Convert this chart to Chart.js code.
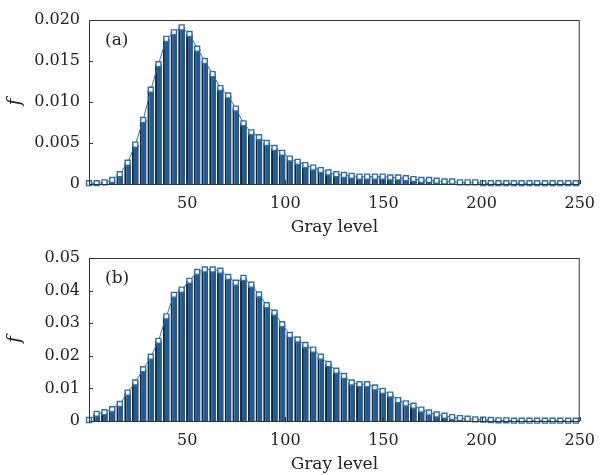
<!DOCTYPE html>
<html>
<head>
<meta charset="utf-8">
<script src="https://cdn.jsdelivr.net/npm/chart.js@4"></script>
<style>
  body { margin: 0; background: #fff; }
  canvas { display: block; }
</style>
</head>
<body>
<canvas id="histA" width="605" height="238"></canvas>
<canvas id="histB" width="605" height="237"></canvas>
<script>
var grayLevels = [0, 3.9, 7.9, 11.8, 15.7, 19.7, 23.6, 27.6, 31.5, 35.4, 39.4, 43.3, 47.2, 51.2, 55.1, 59.0,
  63.0, 66.9, 70.9, 74.8, 78.7, 82.7, 86.6, 90.5, 94.5, 98.4, 102.3, 106.3, 110.2, 114.2, 118.1, 122.0,
  126.0, 129.9, 133.8, 137.8, 141.7, 145.7, 149.6, 153.5, 157.5, 161.4, 165.3, 169.3, 173.2, 177.1, 181.1, 185.0,
  189.0, 192.9, 196.8, 200.8, 204.7, 208.6, 212.6, 216.5, 220.4, 224.4, 228.3, 232.3, 236.2, 240.1, 244.1, 248.0];

var freqA = [0.0001, 0.0001, 0.0002, 0.0005, 0.0012, 0.0026, 0.0048, 0.0078,
  0.0115, 0.0146, 0.0177, 0.0185, 0.0191, 0.0183, 0.0165, 0.0150,
  0.0134, 0.0117, 0.0108, 0.0092, 0.0074, 0.0063, 0.0057, 0.0050,
  0.0044, 0.0038, 0.0031, 0.0027, 0.0023, 0.0020, 0.0017, 0.0014,
  0.0012, 0.0011, 0.0010, 0.0009, 0.0009, 0.0009, 0.0009, 0.0008,
  0.0008, 0.0007, 0.0006, 0.0005, 0.0005, 0.0004, 0.0003, 0.0003,
  0.0002, 0.0002, 0.0002, 0.0001, 0.0001, 0.0001, 0.0001, 0.0001,
  0.0001, 0.0001, 0.0001, 0.0001, 0.0001, 0.0001, 0.0001, 0.0001];

var freqB = [0.0003, 0.0022, 0.0027, 0.0036, 0.0052, 0.0087, 0.0118, 0.0159,
  0.0197, 0.0246, 0.0321, 0.0387, 0.0403, 0.0430, 0.0457, 0.0465,
  0.0465, 0.0461, 0.0442, 0.0424, 0.0439, 0.0418, 0.0388, 0.0355,
  0.0332, 0.0297, 0.0264, 0.0250, 0.0233, 0.0219, 0.0197, 0.0175,
  0.0154, 0.0138, 0.0118, 0.0113, 0.0113, 0.0103, 0.0092, 0.0081,
  0.0064, 0.0054, 0.0047, 0.0035, 0.0026, 0.0020, 0.0016, 0.0012,
  0.0009, 0.0007, 0.0005, 0.0004, 0.0003, 0.0002, 0.0002, 0.0001,
  0.0001, 0.0001, 0.0001, 0.0001, 0.0001, 0.0001, 0.0001, 0.0001];

var xTicks = [50, 100, 150, 200, 250];
var yTicksA = [0, 0.005, 0.010, 0.015, 0.020];
var yLabelsA = ["0", "0.005", "0.010", "0.015", "0.020"];
var yTicksB = [0, 0.01, 0.02, 0.03, 0.04, 0.05];
var yLabelsB = ["0", "0.01", "0.02", "0.03", "0.04", "0.05"];

var barBlue = "#1e5c98";
var lineBlue = "#2f6ea8";
var frameColor = "#333333";
var serif = "'DejaVu Serif', serif";

// frame around the plot, inward ticks and the (a)/(b) tag
var framePlugin = {
  id: "frame",
  afterDraw: function(chart, args, opts) {
    var ctx = chart.ctx;
    var a = chart.chartArea;
    var xs = chart.scales.x, ys = chart.scales.y;
    ctx.save();
    ctx.strokeStyle = frameColor;
    ctx.lineWidth = 1;
    ctx.strokeRect(a.left + 0.5, a.top + 0.5, a.right - a.left - 1, a.bottom - a.top);
    ctx.beginPath();
    xTicks.forEach(function(v) {
      var px = Math.round(xs.getPixelForValue(v)) + 0.5;
      ctx.moveTo(px, a.bottom);
      ctx.lineTo(px, a.bottom - 4);
    });
    opts.yTicks.forEach(function(v) {
      var py = Math.round(ys.getPixelForValue(v)) + 0.5;
      ctx.moveTo(a.left, py);
      ctx.lineTo(a.left + 4, py);
    });
    ctx.stroke();
    ctx.fillStyle = "#222";
    ctx.font = "17px " + serif;
    ctx.textBaseline = "middle";
    ctx.fillText(opts.tag, a.left + 16, a.top + 21);
    ctx.restore();
  }
};

function setupHistogram(canvasId, values, yMax, yTicks, yLabels, tag) {
  var el = document.getElementById(canvasId).getContext("2d");
  var barData = [], lineData = [];
  for (var i = 0; i < grayLevels.length; i++) {
    barData.push({ x: grayLevels[i], y: values[i] });
    lineData.push({ x: grayLevels[i], y: values[i] });
  }

  return new Chart(el, {
    type: "bar",
    data: {
      datasets: [{
        type: "line",
        data: lineData,
        order: 0,
        clip: false,
        borderColor: lineBlue,
        borderWidth: 1,
        pointStyle: "rect",
        pointRadius: 3.5,
        pointBorderWidth: 1.4,
        pointBackgroundColor: "#ffffff",
        pointBorderColor: lineBlue,
        tension: 0
      }, {
        type: "bar",
        data: barData,
        order: 1,
        backgroundColor: barBlue,
        borderColor: "#1f2326",
        borderWidth: { left: 2, top: 0, right: 0, bottom: 0 },
        borderSkipped: false,
        categoryPercentage: 1,
        barPercentage: 0.9
      }]
    },
    options: {
      responsive: false,
      animation: false,
      layout: { padding: { left: 0, right: 19, top: 20, bottom: 0 } },
      plugins: {
        legend: { display: false },
        tooltip: { enabled: false },
        frame: { yTicks: yTicks, tag: tag }
      },
      scales: {
        x: {
          type: "linear",
          min: 0,
          max: 250,
          offset: false,
          grid: { display: false, drawTicks: false },
          border: { display: false },
          afterBuildTicks: function(scale) {
            scale.ticks = xTicks.map(function(v) { return { value: v }; });
          },
          afterFit: function(scale) { scale.height = 54; },
          ticks: {
            padding: 10,
            maxRotation: 0,
            color: "#222",
            font: { family: serif, size: 16 }
          },
          title: {
            display: true,
            text: "Gray level",
            color: "#222",
            font: { family: serif, size: 17 },
            padding: { top: 0, bottom: 0 }
          }
        },
        y: {
          min: 0,
          max: yMax,
          grid: { display: false, drawTicks: false },
          border: { display: false },
          afterBuildTicks: function(scale) {
            scale.ticks = yTicks.map(function(v) { return { value: v }; });
          },
          afterFit: function(scale) { scale.width = 89; },
          ticks: {
            padding: 9,
            color: "#222",
            font: { family: serif, size: 16 },
            callback: function(value, index) { return yLabels[index]; }
          },
          title: {
            display: true,
            text: "f",
            color: "#222",
            font: { family: serif, size: 18, style: "italic" },
            padding: { top: 5, bottom: 0 }
          }
        }
      }
    },
    plugins: [framePlugin]
  });
}

setupHistogram("histA", freqA, 0.020, yTicksA, yLabelsA, "(a)");
setupHistogram("histB", freqB, 0.05, yTicksB, yLabelsB, "(b)");
</script>
</body>
</html>
